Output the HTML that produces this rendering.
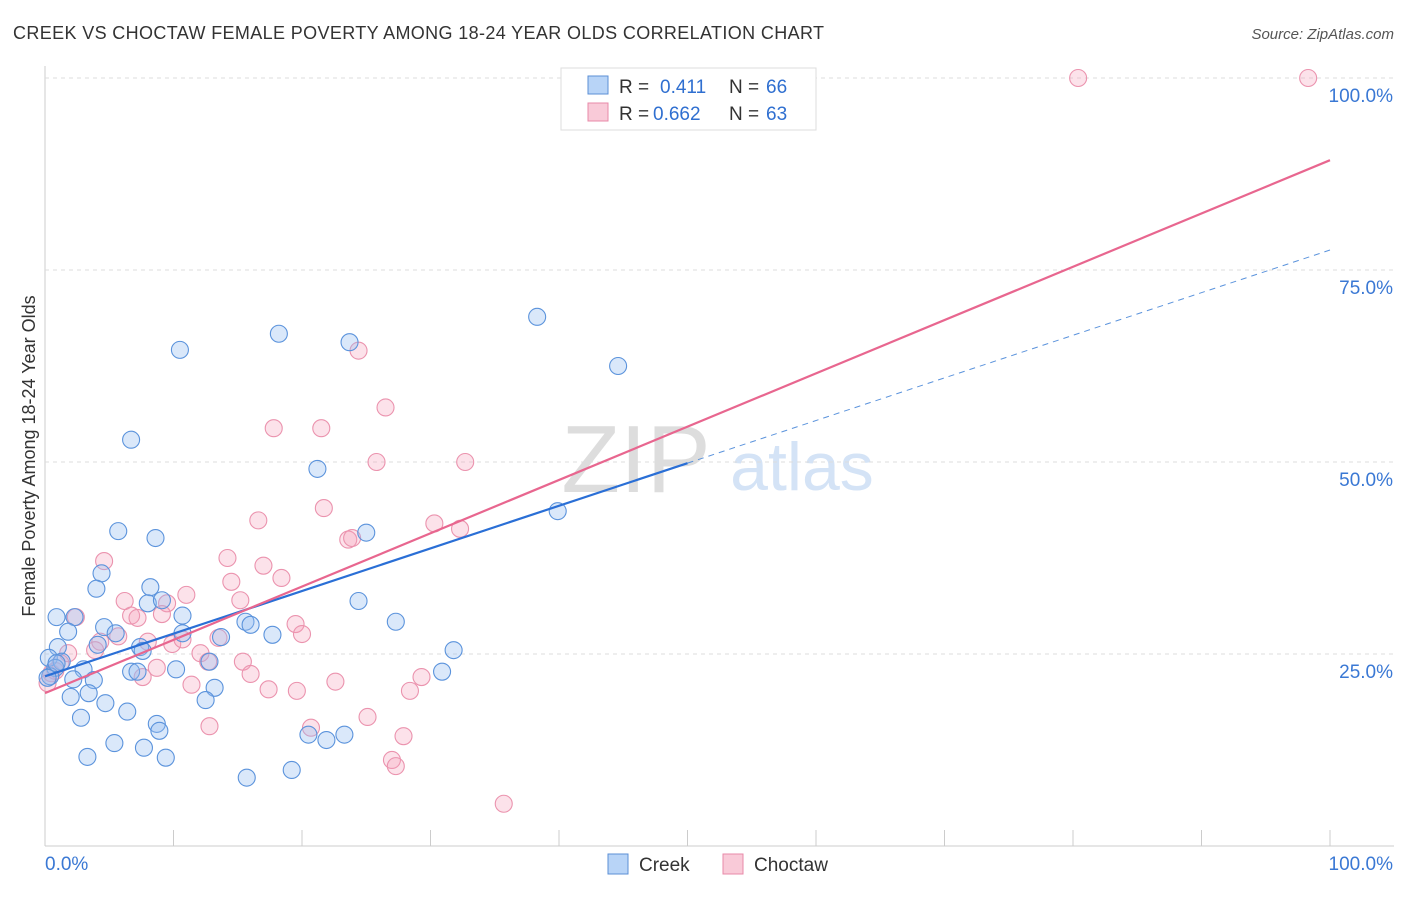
<!DOCTYPE html>
<html><head><meta charset="utf-8"><style>
body{margin:0;background:#fff;font-family:"Liberation Sans",sans-serif}
svg text{font-family:"Liberation Sans",sans-serif}
</style></head><body>
<svg id="c" width="1406" height="892">
<text x="13" y="39" font-size="18" fill="#333" textLength="811" lengthAdjust="spacing">CREEK VS CHOCTAW FEMALE POVERTY AMONG 18-24 YEAR OLDS CORRELATION CHART</text>
<text x="1394" y="39" font-size="15" fill="#555" font-style="italic" text-anchor="end">Source: ZipAtlas.com</text>
<text x="35" y="456" font-size="18" fill="#333" text-anchor="middle" transform="rotate(-90 35 456)">Female Poverty Among 18-24 Year Olds</text>
<text x="636" y="492" font-size="96" fill="#ddd" font-family="Liberation Serif" text-anchor="middle">ZIP</text>
<text x="802" y="490" font-size="68" fill="#d4e3f6" text-anchor="middle">atlas</text>
<g id="grid"></g><g id="pts"></g><g id="lines"></g>
<g>
<rect x="561" y="68" width="255" height="62" fill="#fff" stroke="#ddd"/>
<rect x="588" y="76" width="20" height="18" fill="#b8d4f7" stroke="#5b8fd6"/>
<rect x="588" y="103" width="20" height="18" fill="#f9cad8" stroke="#e88aa8"/>
<text x="619" y="93" font-size="19" fill="#333">R =</text>
<text x="660" y="93" font-size="19" fill="#2f6fd0">0.411</text>
<text x="729" y="93" font-size="19" fill="#333">N =</text>
<text x="766" y="93" font-size="19" fill="#2f6fd0">66</text>
<text x="619" y="120" font-size="19" fill="#333">R =</text>
<text x="653" y="120" font-size="19" fill="#2f6fd0">0.662</text>
<text x="729" y="120" font-size="19" fill="#333">N =</text>
<text x="766" y="120" font-size="19" fill="#2f6fd0">63</text>
</g>
<g>
<rect x="608" y="854" width="20" height="20" fill="#b8d4f7" stroke="#5b8fd6"/>
<text x="639" y="871" font-size="19" fill="#333">Creek</text>
<rect x="723" y="854" width="20" height="20" fill="#f9cad8" stroke="#e88aa8"/>
<text x="754" y="871" font-size="19" fill="#333">Choctaw</text>
</g>
</svg>
<script>
const yTicks=[25,50,75,100];
const xTickLabels=["0.0%","100.0%"];
const creekX=[10.5,18.2,23.7,38.3,44.6,6.7,21.2,39.9,5.7,8.6,25,4.4,8.2,4,8,9.1,24.4,0.9,2.3,1.8,4.6,5.5,10.7,10.7,13.7,15.6,16,17.7,27.3,31.8,1,4.1,7.4,7.6,0.3,1.3,0.8,3,6.7,7.2,10.2,12.8,0.4,2.2,3.8,0.2,3.4,2,13.2,12.5,4.7,6.4,2.8,8.7,8.9,5.4,7.7,3.3,9.4,20.5,21.9,23.3,30.9,15.7,19.2,0.9];
const creekY=[64.6,66.7,65.6,68.9,62.5,52.9,49.1,43.6,41,40.1,40.8,35.5,33.7,33.5,31.6,32,31.9,29.8,29.8,27.9,28.5,27.7,30,27.7,27.2,29.2,28.8,27.5,29.2,25.5,25.9,26.2,25.9,25.4,24.5,24,23.2,23.0,22.7,22.7,23.0,24,22.1,21.7,21.6,21.9,19.9,19.4,20.6,19.0,18.6,17.5,16.7,15.9,15.0,13.4,12.8,11.6,11.5,14.5,13.8,14.5,22.7,8.9,9.9,23.8];
const choctawX=[80.4,98.3,24.4,26.5,17.8,21.5,25.8,32.7,16.6,21.7,30.3,32.3,23.6,23.9,14.2,17.0,4.6,18.4,14.5,11,6.2,15.2,9.5,6.7,7.2,9.1,19.5,20,5.7,4.3,8,9.9,10.7,13.5,12.1,12.7,15.4,16,8.7,7.6,3.9,1.8,1.2,0.5,0.2,11.4,22.6,19.6,17.4,28.4,29.3,12.8,25.1,20.7,27.9,27,27.3,35.7,2.4,0.8];
const choctawY=[100,100,64.5,57.1,54.4,54.4,50,50,42.4,44,42,41.3,39.9,40.1,37.5,36.5,37.1,34.9,34.4,32.7,31.9,32,31.6,30,29.7,30.2,28.9,27.6,27.3,26.6,26.6,26.3,26.9,27.1,25.1,24,24,22.4,23.2,22.0,25.5,25.1,23.8,22.5,21.2,21.0,21.4,20.2,20.4,20.2,22.0,15.6,16.8,15.4,14.3,11.2,10.4,5.5,29.8,22.8];
const creekFit=[22.1,77.6];
const choctawFit=[19.9,89.3];
const NS="http://www.w3.org/2000/svg";
const X=v=>45+v*12.85, Y=v=>846-v*7.68;
function mk(t,a,p){const e=document.createElementNS(NS,t);for(const k in a)e.setAttribute(k,a[k]);p.appendChild(e);return e;}
const grid=document.getElementById('grid');
mk('line',{x1:45,y1:66,x2:45,y2:846,stroke:'#ccc'},grid);
mk('line',{x1:45,y1:846,x2:1394,y2:846,stroke:'#ccc'},grid);
for(let i=1;i<=10;i++){const t=mk('line',{x1:X(i*10),x2:X(i*10),y1:830,y2:846,stroke:'#ccc'},grid);

}
yTicks.forEach(v=>{const l=mk('line',{x1:45,x2:1394,y1:Y(v),y2:Y(v),stroke:'#ddd','stroke-dasharray':'4 4'},grid);


const t=mk('text',{x:1393,y:Y(v)+24,'font-size':19,fill:'#3a78d4','text-anchor':'end'},grid);t.textContent=v.toFixed(1)+'%';

});
xTickLabels.forEach((s,i)=>{const t=mk('text',{x:i?1393:45,y:870,'font-size':19,fill:'#3a78d4','text-anchor':i?'end':'start'},grid);t.textContent=s;

});
const pts=document.getElementById('pts');
choctawX.forEach((x,i)=>{const c=mk('circle',{cx:X(x),cy:Y(choctawY[i]),r:8.5,fill:'rgba(244,160,185,0.3)',stroke:'#eb93ae','stroke-width':1.1},pts);

});
creekX.forEach((x,i)=>{const c=mk('circle',{cx:X(x),cy:Y(creekY[i]),r:8.5,fill:'rgba(150,190,240,0.35)',stroke:'#5b93dc','stroke-width':1.1},pts);

});
const lines=document.getElementById('lines');
const cy=x=>creekFit[0]+(creekFit[1]-creekFit[0])*x/100;
let l1=mk('line',{x1:X(0),y1:Y(cy(0)),x2:X(50),y2:Y(cy(50)),stroke:'#2a6fd6','stroke-width':2.2},lines);


let l2=mk('line',{x1:X(50),y1:Y(cy(50)),x2:X(100),y2:Y(cy(100)),stroke:'#5b93dc','stroke-width':1,'stroke-dasharray':'6 5'},lines);


let l3=mk('line',{x1:X(0),y1:Y(choctawFit[0]),x2:X(100),y2:Y(choctawFit[1]),stroke:'#e8668f','stroke-width':2.2},lines);


</script>
</body></html>
